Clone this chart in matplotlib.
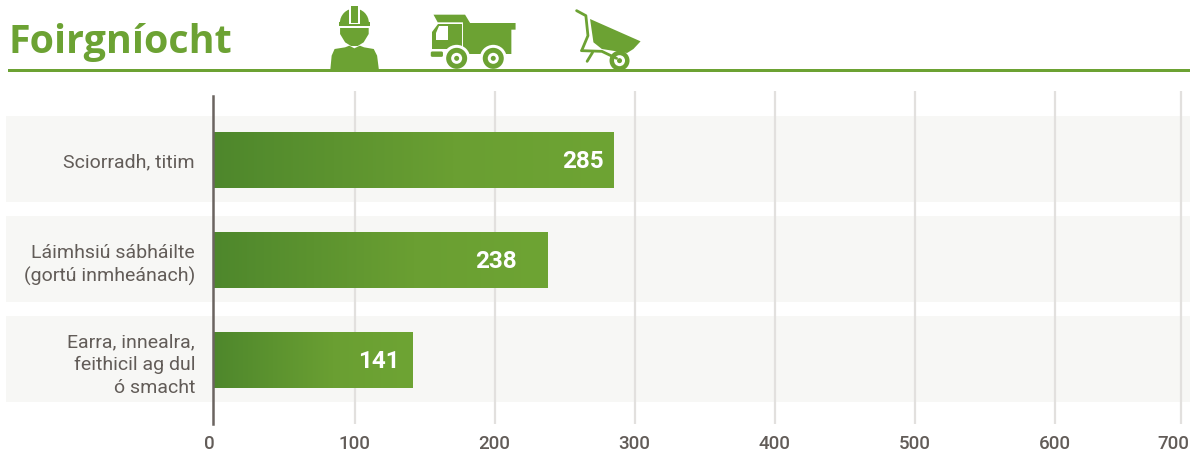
import numpy as np
import matplotlib
matplotlib.use("Agg")
import matplotlib.pyplot as plt
from matplotlib.colors import LinearSegmentedColormap
from matplotlib.patches import Rectangle, Polygon, Circle, FancyBboxPatch, Wedge
from matplotlib.transforms import blended_transform_factory, ScaledTranslation

title = "Foirgníocht"
categories = ["Sciorradh, titim", "Láimhsiú sábháilte\n(gortú inmheánach)", "Earra, innealra,\nfeithicil ag dul\nó smacht"]
values = [285, 238, 141]
tick_values = [0, 100, 200, 300, 400, 500, 600, 690]
tick_labels = ["0", "100", "200", "300", "400", "500", "600", "700"]

W, H = 1190, 452
GREEN = "#6ca233"
TXT = "#625c58"
SCALE = 1.4
plt.rcParams["font.family"] = ["Roboto", "DejaVu Sans"]

fig = plt.figure(figsize=(W / 100, H / 100), dpi=100, facecolor="white")

bg = fig.add_axes([0, 0, 1, 1], zorder=0)
bg.set_xlim(0, W); bg.set_ylim(H, 0); bg.axis("off")

X0, Y_T, Y_B = 214.5, 92, 425
ax = fig.add_axes([X0 / W, 1 - Y_B / H, (W - X0) / W, (Y_B - Y_T) / H], zorder=1)
ax.patch.set_alpha(0)
xlim = (0, (W - X0) / SCALE)
ylim = (2.645, -0.685)
AXIS_X = -1.2
y = np.arange(len(values))

trans = blended_transform_factory(fig.transFigure, ax.transData)
for yi in y:
    ax.add_patch(Rectangle((6 / W, yi - 0.44), 1, 0.865, transform=trans,
                           facecolor="#f7f7f5", edgecolor="none", zorder=0, clip_on=False))

ax.set_xticks(tick_values)
ax.set_xticklabels(tick_labels, fontsize=13.5, fontweight="medium", color=TXT)
ax.tick_params(axis="x", length=0, pad=7.5)
ax.grid(axis="x", color="#e2e0de", linewidth=1.6, zorder=1)
ax.set_axisbelow(True)
for s in ax.spines.values():
    s.set_visible(False)
ax.get_xgridlines()[0].set_visible(False)
ax.axvline(AXIS_X, color="#6b6460", linewidth=1.8, zorder=5, ymin=0, ymax=0.985, clip_on=False)

labs = ax.get_xticklabels()
for lab, dx in ((labs[0], -5.5), (labs[-1], -7)):
    lab.set_transform(lab.get_transform() + ScaledTranslation(dx / 100, 0, fig.dpi_scale_trans))

cmap = LinearSegmentedColormap.from_list("g", [(0, "#4e872c"), (0.6, "#6a9f32"), (1, "#6ea434")])
bars = ax.barh(y, np.array(values) - AXIS_X, left=AXIS_X, height=0.56, color="none", zorder=3)
grad = np.linspace(0, 1, 512).reshape(1, -1)
label_gap = [7, 22, 9]
for b, v, yi, gap in zip(bars, values, y, label_gap):
    im = ax.imshow(grad, extent=[AXIS_X, v, yi + 0.28, yi - 0.28], cmap=cmap, aspect="auto", zorder=3)
    im.set_clip_path(b)
    ax.text(v - gap, yi + 0.005, str(v), ha="right", va="center", color="white",
            fontsize=17.5, fontweight="bold", zorder=4)
ax.set_xlim(*xlim)
ax.set_ylim(*ylim)

ax.set_yticks(y)
ax.set_yticklabels(categories, fontsize=14, color=TXT, ha="right", linespacing=1.35)
ax.tick_params(axis="y", length=0, pad=14)

bg.text(9, 52.5, title, fontsize=28.4, fontweight="bold", color=GREEN, va="baseline", ha="left",
        family=["Open Sans", "DejaVu Sans"])
bg.add_patch(Rectangle((8, 69.8), W, 3.6, facecolor=GREEN, edgecolor="none", zorder=10))

SX, SY = 2.376, 3.0
def P(pts, fc=GREEN):
    bg.add_patch(Polygon([(a / SX, b / SY) for a, b in pts], closed=True, facecolor=fc, edgecolor="none"))
def L(pts, lw=1.8):
    a = np.array(pts, dtype=float)
    bg.plot(a[:, 0] / SX, a[:, 1] / SY, color=GREEN, lw=lw, solid_capstyle="round", solid_joinstyle="round")
def C(x, yc, r, fc=GREEN):
    bg.add_patch(Circle((x / SX, yc / SY), r, facecolor=fc, edgecolor="none"))

# worker
bg.add_patch(Wedge((842 / SX, 72 / SY), 14.5, 180, 360, facecolor=GREEN, edgecolor="none"))
P([(805, 68), (878, 68), (878, 80), (805, 80)])
P([(829, 26), (855, 26), (855, 74), (829, 74)], "white")
P([(833, 22), (851, 22), (851, 71), (833, 71)])
P([(808, 87), (876, 87), (876, 105), (864, 130), (850, 141), (834, 141), (820, 130), (808, 105)])
P([(785, 210), (788, 170), (795, 150), (820, 145), (830, 140), (842, 148), (855, 140), (865, 145),
   (888, 150), (896, 170), (900, 210)])

# truck
P([(1030, 47), (1105, 47), (1117, 72), (1225, 72), (1225, 92), (1215, 92), (1215, 165), (1100, 165),
   (1100, 70), (1040, 70)])
P([(1040, 76), (1098, 76), (1098, 150), (1027, 150), (1027, 100)])
P([(1042, 82), (1065, 82), (1065, 122), (1035, 122), (1035, 102)], "white")
bg.add_patch(FancyBboxPatch((1024 / SX, 158 / SY), 28 / SX, 15 / SY, boxstyle="round,pad=0.2,rounding_size=1.5",
                            facecolor=GREEN, edgecolor="none"))
for cx in (1085, 1172):
    C(cx, 178, 13.5, "white")
    C(cx, 178, 10.5)
    C(cx, 178, 5.5, "white")
    C(cx, 178, 2.5)

# wheelbarrow
L([(1370, 35), (1392, 50), (1397, 110), (1382, 155)], 2.0)
P([(1402, 60), (1522, 127), (1505, 150), (1490, 162), (1430, 150), (1410, 130)])
L([(1382, 155), (1430, 157), (1465, 178)], 2.0)
L([(1408, 160), (1395, 187)], 2.0)
C(1472, 185, 10)
C(1472, 185, 5.5, "white")
C(1472, 185, 2.5)

fig.savefig("out.png", dpi=100, facecolor="white")
